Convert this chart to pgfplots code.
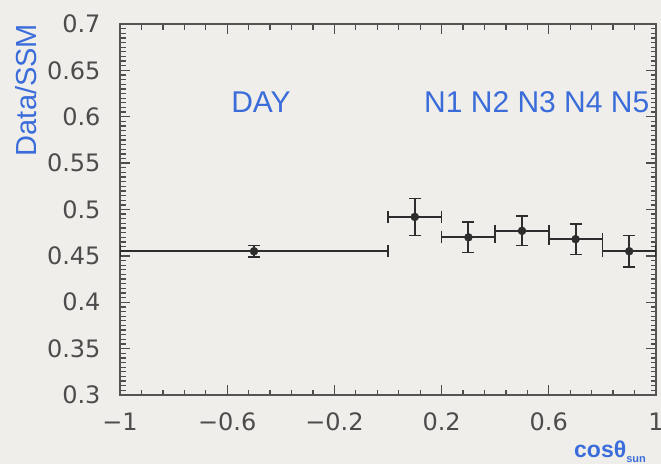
\documentclass[border=0pt]{standalone}
\usepackage{pgfplots}
\pgfplotsset{compat=1.18}
\usepackage{pgfplotstable}
\usepackage{fontspec}
\setmainfont{Liberation Sans}
\newfontfamily\tickfont{DejaVu Sans}

\definecolor{paper}{RGB}{240,238,234}
\definecolor{lblue}{RGB}{58,108,218}
\definecolor{ink}{RGB}{45,45,45}

% Day sample and the five night bins: ratio to the SSM prediction
\pgfplotstableread{
x     y      ex   ey
-0.5  0.455  0.5  0.006
}\daytab
\pgfplotstableread{
x    y      ex   ey
0.1  0.492  0.1  0.020
0.3  0.470  0.1  0.0165
0.5  0.477  0.1  0.016
0.7  0.468  0.1  0.0165
0.9  0.455  0.1  0.017
}\nighttab

\begin{document}
\begin{tikzpicture}
\fill[paper] (0pt,0pt) rectangle (661pt,464pt);
\begin{axis}[
  scale only axis,
  width=536pt, height=371pt,
  at={(120pt,69pt)}, anchor=south west,
  xmin=-1, xmax=1, ymin=0.3, ymax=0.7,
  axis line style={black!67, line width=1.4pt},
  tick style={black!70, line width=1.3pt},
  tickwidth=10pt, subtickwidth=5.5pt,
  xtick={-1,-0.6,-0.2,0.2,0.6,1},
  xticklabels={−1,−0.6,−0.2,0.2,0.6,1},
  minor x tick num=4,
  ytick={0.3,0.35,0.4,0.45,0.5,0.55,0.6,0.65,0.7},
  yticklabels={0.3,0.35,0.4,0.45,0.5,0.55,0.6,0.65,0.7},
  minor y tick num=9,
  tick label style={font=\tickfont\fontsize{24}{24}\selectfont, text=ink!85!white},
  xticklabel style={yshift=-14pt, overlay},
  yticklabel style={xshift=-16pt},
]
\addplot[ink, only marks, mark=*, mark size=4pt,
  error bars/.cd, x dir=both, x explicit, y dir=both, y explicit,
  error mark=-, error mark options={rotate=90, ink, line width=1.6pt, mark size=6pt},
  error bar style={ink, line width=2pt}]
  table[x=x, y=y, x error=ex, y error=ey] {\daytab};
\addplot[ink, only marks, mark=*, mark size=4pt,
  error bars/.cd, x dir=both, x explicit, y dir=both, y explicit,
  error mark=-, error mark options={rotate=90, ink, line width=1.6pt, mark size=6pt},
  error bar style={ink, line width=2pt}]
  table[x=x, y=y, x error=ex, y error=ey] {\nighttab};
\end{axis}
% labels
\node[lblue, rotate=90, font=\fontsize{29}{29}\selectfont] at (26pt,374pt) {Data/SSM};
\node[lblue, font=\fontsize{30}{30}\selectfont] at (261pt,362pt) {DAY};
\node[overlay, lblue, anchor=west, font=\fontsize{30}{30}\selectfont, inner sep=0pt] at (424pt,362pt) {N1 N2 N3 N4 N5};
\node[overlay, lblue, anchor=west, font=\bfseries\fontsize{23}{23}\selectfont, inner sep=0pt] at (574pt,12pt)
  {cosθ\raisebox{-5pt}{\fontsize{11}{11}\selectfont sun}};
\end{tikzpicture}
\end{document}
